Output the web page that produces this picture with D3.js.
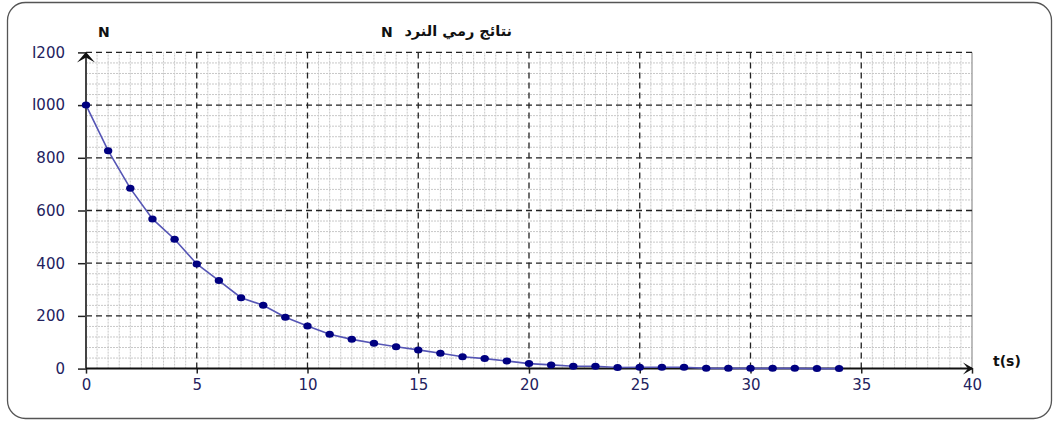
<!DOCTYPE html>
<html>
<head>
<meta charset="utf-8">
<script src="https://cdn.jsdelivr.net/npm/d3@7"></script>
<style>
  html, body { margin: 0; padding: 0; background: #fff; }
  svg { display: block; }
</style>
</head>
<body>
<svg id="chart" width="1056" height="421"></svg>
<script>
// ---- data ----
const times = [0,1,2,3,4,5,6,7,8,9,10,11,12,13,14,15,16,17,18,19,20,21,22,23,24,25,26,27,28,29,30,31,32,33,34];
const counts = [1000,827,684,568,491,397,334,269,240,195,162,130,111,96,83,71,58,45,38,29,19,14,9,9,4,5,5,5,1,1,1,1,1,0,0];
const xTickValues = [0,5,10,15,20,25,30,35,40];
const xTickLabels = ["0","5","10","15","20","25","30","35","40"];
const yTickValues = [0,200,400,600,800,1000,1200];
const yTickLabels = ["0","200","400","600","800","I000","I200"];
const titleText = "نتائج رمي النرد";
const yAxisTitle = "N";
const xAxisTitle = "t(s)";

// ---- drawing ----
const svg = d3.select("#chart");
const x = d3.scaleLinear().domain([0, 40]).range([86, 972]);
const y = d3.scaleLinear().domain([0, 1200]).range([368.6, 52.4]);

// outer rounded frame
svg.append("rect")
  .attr("x", 7.5).attr("y", 2.5).attr("width", 1044).attr("height", 416)
  .attr("rx", 18).attr("ry", 18)
  .attr("fill", "#fff").attr("stroke", "#555").attr("stroke-width", 1.3);

const grid = svg.append("g");
// minor grid
const minorX = d3.range(0, 40.001, 0.5).filter(v => v % 5 !== 0);
const minorY = d3.range(0, 1200.001, 40).filter(v => v % 200 !== 0);
grid.selectAll(".mx").data(minorX).join("line")
  .attr("x1", d => x(d)).attr("x2", d => x(d))
  .attr("y1", y(0)).attr("y2", y(1200))
  .attr("stroke", "#c8c8c8").attr("stroke-width", 1).attr("stroke-dasharray", "2,1");
grid.selectAll(".my").data(minorY).join("line")
  .attr("x1", x(0)).attr("x2", x(40))
  .attr("y1", d => y(d)).attr("y2", d => y(d))
  .attr("stroke", "#c8c8c8").attr("stroke-width", 1).attr("stroke-dasharray", "2,1");

// right border of plot
grid.append("line")
  .attr("x1", x(40)).attr("x2", x(40)).attr("y1", y(0)).attr("y2", y(1200))
  .attr("stroke", "#999").attr("stroke-width", 1.3);

// major grid (dashed)
grid.selectAll(".Mx").data(xTickValues.filter(v => v > 0 && v < 40)).join("line")
  .attr("x1", d => x(d)).attr("x2", d => x(d))
  .attr("y1", y(0)).attr("y2", y(1200))
  .attr("stroke", "#222").attr("stroke-width", 1.3).attr("stroke-dasharray", "6,4");
grid.selectAll(".My").data(yTickValues.filter(v => v > 0)).join("line")
  .attr("x1", x(0)).attr("x2", x(40))
  .attr("y1", d => y(d)).attr("y2", d => y(d))
  .attr("stroke", "#222").attr("stroke-width", 1.3).attr("stroke-dasharray", "6,4");

// axes
const labelColor = "#23225e";
const yAxis = d3.axisLeft(y).tickValues(yTickValues)
  .tickFormat((d, i) => yTickLabels[i]).tickSize(8).tickPadding(13);
const gy = svg.append("g").attr("transform", `translate(${x(0)},0)`).call(yAxis);
gy.select(".domain").remove();
gy.selectAll(".tick line").attr("stroke", "#222").attr("stroke-width", 1.5);
gy.selectAll(".tick text").attr("fill", labelColor)
  .style("font-family", "DejaVu Sans, Verdana, sans-serif").style("font-size", "15px");

const xAxis = d3.axisBottom(x).tickValues(xTickValues)
  .tickFormat((d, i) => xTickLabels[i]).tickSize(5).tickPadding(6);
const gx = svg.append("g").attr("transform", `translate(0,${y(0)})`).call(xAxis);
gx.select(".domain").remove();
gx.selectAll(".tick line").attr("stroke", "#222").attr("stroke-width", 1.5);
gx.selectAll(".tick text").attr("fill", labelColor)
  .style("font-family", "DejaVu Sans, Verdana, sans-serif").style("font-size", "15px");

// axis lines with arrows
svg.append("line").attr("x1", x(0)).attr("x2", x(0)).attr("y1", y(0) + 1).attr("y2", y(1200) + 2)
  .attr("stroke", "#444").attr("stroke-width", 2);
svg.append("line").attr("x1", x(0)).attr("x2", x(40)).attr("y1", y(0)).attr("y2", y(0))
  .attr("stroke", "#111").attr("stroke-width", 2);
svg.append("path")
  .attr("d", `M${x(0)},${y(1200) - 0.5} L${x(0) - 9},${y(1200) + 10} L${x(0)},${y(1200) + 5} L${x(0) + 9},${y(1200) + 10} Z`)
  .attr("fill", "#111");
svg.append("path")
  .attr("d", `M${x(40) + 1.5},${y(0)} L${x(40) - 9},${y(0) - 6} L${x(40) - 4},${y(0)} L${x(40) - 9},${y(0) + 6} Z`)
  .attr("fill", "#111");

// data line and markers
const line = d3.line().x((d, i) => x(times[i])).y(d => y(d));
svg.append("path").datum(counts)
  .attr("d", line).attr("fill", "none")
  .attr("stroke", "#5555b5").attr("stroke-width", 1.6);
svg.selectAll(".pt").data(counts).join("ellipse")
  .attr("cx", (d, i) => x(times[i])).attr("cy", d => y(d))
  .attr("rx", 4.2).attr("ry", 3.5)
  .attr("fill", "#000080");

// titles
svg.append("text").attr("x", 98).attr("y", 37).text(yAxisTitle)
  .style("font-family", "DejaVu Sans, sans-serif").style("font-weight", "bold").style("font-size", "14px")
  .attr("fill", "#111");
svg.append("text").attr("x", 381).attr("y", 37).text("N")
  .style("font-family", "DejaVu Sans, sans-serif").style("font-weight", "bold").style("font-size", "14px")
  .attr("fill", "#111");
svg.append("text").attr("x", 512).attr("y", 36).attr("text-anchor", "end")
  .text(titleText)
  .style("font-family", "DejaVu Sans, sans-serif").style("font-weight", "bold").style("font-size", "14.5px")
  .attr("fill", "#111");
svg.append("text").attr("x", 993).attr("y", 366).text(xAxisTitle)
  .style("font-family", "DejaVu Sans, sans-serif").style("font-weight", "bold").style("font-size", "14px")
  .attr("fill", "#111");
</script>
</body>
</html>
